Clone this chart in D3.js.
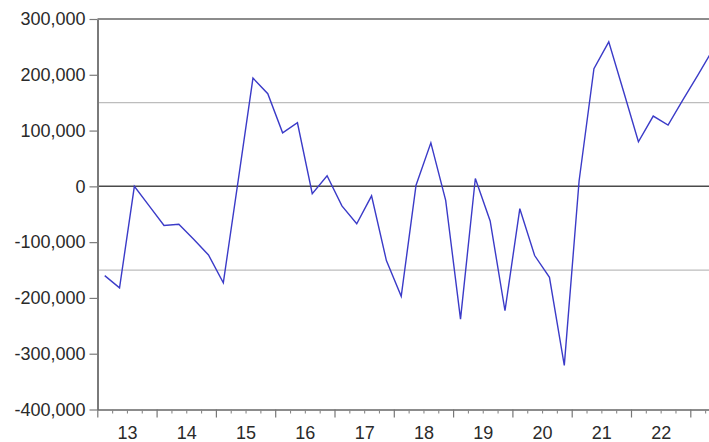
<!DOCTYPE html>
<html>
<head>
<meta charset="utf-8">
<script src="https://cdn.jsdelivr.net/npm/d3@7"></script>
<style>
  html, body { margin: 0; padding: 0; background: #fff; overflow: hidden; }
  svg { display: block; }
  text { font-family: "Liberation Sans", Arial, sans-serif; fill: #2a2a2a; }
</style>
</head>
<body>
<svg id="chart" width="709" height="442"></svg>
<script>
// ---- data (quarterly, starting 2013Q1) ----
const startYear = 2013;
const values = [
  -160000, -182000, 0, -35000,
  -70000, -68000, -95000, -123000,
  -173000, 10000, 194000, 166000,
  96000, 114000, -13000, 19000,
  -35000, -67000, -17000, -133000,
  -197000, 2000, 78000, -25000,
  -238000, 14000, -62000, -223000,
  -40000, -124000, -163000, -321000,
  10000, 211000, 259000, 170000,
  80000, 126000, 110000, 155000,
  199000, 244000
];
const yearLabels = ["13","14","15","16","17","18","19","20","21","22"];
const yTicks = [300000, 200000, 100000, 0, -100000, -200000, -300000, -400000];
const refLines = [150000, -150000];
const zeroLine = [0];

// ---- layout ----
const svg = d3.select("#chart");
const plotLeft = 97.5, plotTop = 19, plotBottom = 409.5;

const x = d3.scaleLinear().domain([2013, 2024]).range([97.3, 97.3 + 11 * 59.3]);
const y = d3.scaleLinear().domain([-400000, 300000]).range([plotBottom, plotTop]);

const obsX = (d, i) => x(startYear + (i + 0.5) / 4);

// reference lines (+/-150k)
svg.selectAll("line.ref").data(refLines).enter().append("line")
  .attr("class", "ref")
  .attr("x1", plotLeft).attr("x2", 709)
  .attr("y1", d => y(d)).attr("y2", d => y(d))
  .attr("stroke", "#bdbdbd").attr("stroke-width", 1.2);

// zero line
svg.selectAll("line.zero").data(zeroLine).enter().append("line")
  .attr("class", "zero")
  .attr("x1", plotLeft).attr("x2", 709)
  .attr("y1", d => y(d)).attr("y2", d => y(d))
  .attr("stroke", "#4a4a4a").attr("stroke-width", 1.5);

// top frame line
svg.append("line")
  .attr("x1", plotLeft).attr("x2", 709)
  .attr("y1", y(300000)).attr("y2", y(300000))
  .attr("stroke", "#666").attr("stroke-width", 1.6);

// series line
const line = d3.line().x(obsX).y(d => y(d));
svg.append("path")
  .datum(values)
  .attr("d", line)
  .attr("fill", "none")
  .attr("stroke", "#3b3bc8")
  .attr("stroke-width", 1.4)
  .attr("stroke-linejoin", "miter");

// y axis
const fmt = d3.format(",");
const yAxis = d3.axisLeft(y)
  .tickValues(yTicks)
  .tickFormat(d => fmt(d).replace("\u2212", "-"))
  .tickSize(8)
  .tickSizeOuter(0)
  .tickPadding(4);
const gy = svg.append("g").attr("transform", `translate(${plotLeft},0)`).call(yAxis);
gy.select(".domain").attr("stroke", "#7a7a7a").attr("stroke-width", 2);
gy.selectAll(".tick line").attr("stroke", "#7a7a7a").attr("stroke-width", 1.2);
gy.selectAll(".tick text")
  .style("font-size", "18px")
  .style("font-family", "'Liberation Sans', Arial, sans-serif")
  .attr("fill", "#2a2a2a");

// x axis: quarter minor ticks
const quarterTicks = d3.range(0, 44).map(q => startYear + q / 4).filter(v => v % 1 !== 0);
const xMinor = d3.axisBottom(x).tickValues(quarterTicks).tickSize(4).tickSizeOuter(0).tickFormat("");
const gxm = svg.append("g").attr("transform", `translate(0,${plotBottom})`).call(xMinor);
gxm.select(".domain").attr("stroke", "#666").attr("stroke-width", 1.6);
gxm.selectAll(".tick line").attr("stroke", "#888").attr("stroke-width", 1.1);

// x axis: year major ticks
const yearTicks = d3.range(2013, 2024);
const xMajor = d3.axisBottom(x).tickValues(yearTicks).tickSize(8).tickSizeOuter(0).tickFormat("");
const gxM = svg.append("g").attr("transform", `translate(0,${plotBottom})`).call(xMajor);
gxM.select(".domain").remove();
gxM.selectAll(".tick line").attr("stroke", "#777").attr("stroke-width", 1.2);

// x axis: year labels at mid-year
const labelPos = yearLabels.map((s, i) => startYear + i + 0.5);
const xLab = d3.axisBottom(x).tickValues(labelPos).tickSize(0).tickPadding(17)
  .tickFormat((d, i) => yearLabels[i]);
const gxl = svg.append("g").attr("transform", `translate(0,${plotBottom})`).call(xLab);
gxl.select(".domain").remove();
gxl.selectAll(".tick text")
  .style("font-size", "18px")
  .style("font-family", "'Liberation Sans', Arial, sans-serif")
  .attr("fill", "#2a2a2a");
</script>
</body>
</html>
